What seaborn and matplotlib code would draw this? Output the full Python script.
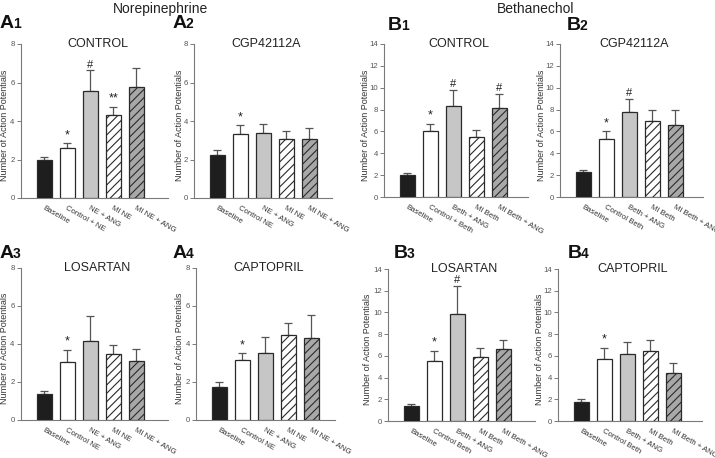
import numpy as np
import pandas as pd
import matplotlib
matplotlib.use("Agg")
import matplotlib.pyplot as plt
import seaborn as sns

sns.set_theme(style="white")
plt.rcParams['font.family'] = ['Liberation Sans', 'DejaVu Sans']
plt.rcParams['hatch.linewidth'] = 0.8

# ---------------- data ----------------
ne_labels_ctrl = ["Baseline", "Control + NE", "NE + ANG", "MI NE", "MI NE + ANG"]
ne_labels = ["Baseline", "Control NE", "NE + ANG", "MI NE", "MI NE + ANG"]
beth_labels_ctrl = ["Baseline", "Control + Beth", "Beth + ANG", "MI Beth", "MI Beth + ANG"]
beth_labels = ["Baseline", "Control Beth", "Beth + ANG", "MI Beth", "MI Beth + ANG"]

a1_mean = [2.00, 2.60, 5.58, 4.33, 5.79]
a1_sem = [0.15, 0.24, 1.05, 0.40, 0.95]
a1_sig = ["", "*", "#", "**", ""]

a2_mean = [2.25, 3.34, 3.39, 3.08, 3.06]
a2_sem = [0.22, 0.43, 0.46, 0.38, 0.57]
a2_sig = ["", "*", "", "", ""]

b1_mean = [1.98, 6.04, 8.35, 5.49, 8.14]
b1_sem = [0.20, 0.68, 1.48, 0.62, 1.32]
b1_sig = ["", "*", "#", "", "#"]

b2_mean = [2.26, 5.30, 7.77, 6.92, 6.55]
b2_sem = [0.22, 0.70, 1.19, 1.07, 1.38]
b2_sig = ["", "*", "#", "", ""]

a3_mean = [1.38, 3.07, 4.17, 3.50, 3.08]
a3_sem = [0.16, 0.64, 1.31, 0.46, 0.65]
a3_sig = ["", "*", "", "", ""]

a4_mean = [1.76, 3.15, 3.53, 4.48, 4.34]
a4_sem = [0.23, 0.36, 0.83, 0.62, 1.20]
a4_sig = ["", "*", "", "", ""]

b3_mean = [1.38, 5.57, 9.88, 5.94, 6.65]
b3_sem = [0.14, 0.92, 2.58, 0.74, 0.83]
b3_sig = ["", "*", "#", "", ""]

b4_mean = [1.75, 5.74, 6.20, 6.47, 4.45]
b4_sem = [0.24, 1.01, 1.10, 0.98, 0.92]
b4_sig = ["", "*", "", "", ""]

# ---------------- style ----------------
face = ["#1e1e1e", "#ffffff", "#c6c6c6", "#ffffff", "#a8a8a8"]
hatches = [None, None, None, "////", "////"]
edge = "#2a2a2a"
axis_gray = "#7a7a7a"

W, H = 715, 458
fig = plt.figure(figsize=(W / 100, H / 100), dpi=100)

PX_PER_CAT = 23.0
LEFT_OFF = 1.02

# (left_px, right_px, top_px, bottom_px), panel-label pos, ylabel centre x
panels = [
    ("A", "1", "CONTROL", ne_labels_ctrl, a1_mean, a1_sem, a1_sig, 8, (21, 168, 44, 198), (0, 23), 5),
    ("A", "2", "CGP42112A", ne_labels, a2_mean, a2_sem, a2_sig, 8, (194, 332, 44, 198), (173, 23), 180),
    ("B", "1", "CONTROL", beth_labels_ctrl, b1_mean, b1_sem, b1_sig, 14, (384, 528, 44, 197), (388, 25), 365),
    ("B", "2", "CGP42112A", beth_labels, b2_mean, b2_sem, b2_sig, 14, (560, 703, 44, 197), (567, 25), 541),
    ("A", "3", "LOSARTAN", ne_labels, a3_mean, a3_sem, a3_sig, 8, (21, 168, 268, 420), (0, 253), 5),
    ("A", "4", "CAPTOPRIL", ne_labels, a4_mean, a4_sem, a4_sig, 8, (196, 335, 268, 420), (173, 253), 180),
    ("B", "3", "LOSARTAN", beth_labels, b3_mean, b3_sem, b3_sig, 14, (388, 535, 269, 421), (394, 253), 368),
    ("B", "4", "CAPTOPRIL", beth_labels, b4_mean, b4_sem, b4_sig, 14, (558, 702, 269, 421), (568, 253), 539),
]

for letter, num, title, labels, mean, sem, sig, ymax, (l, r, t, b), (lx, ly), ylx in panels:
    ax = fig.add_axes([l / W, 1 - b / H, (r - l) / W, (b - t) / H])
    df = pd.DataFrame({"cond": labels, "val": mean})
    sns.barplot(data=df, x="cond", y="val", hue="cond", palette=face, order=labels,
                hue_order=labels, legend=False, errorbar=None, width=0.65,
                edgecolor=edge, linewidth=0.9, ax=ax, zorder=3)
    for p, h, fc in zip(ax.patches, hatches, face):
        p.set_facecolor(fc)
        p.set_edgecolor(edge)
        if h:
            p.set_hatch(h)
    x = np.arange(len(labels))
    ax.errorbar(x, mean, yerr=[np.zeros(len(sem)), sem], fmt="none",
                ecolor="#555555", elinewidth=0.9, capsize=3.2, capthick=0.9, zorder=2)
    for xi, m, s, g in zip(x, mean, sem, sig):
        if g:
            ax.annotate(g, (xi, m + s), xytext=(0, 1.5 if g != "#" else 0.5),
                        textcoords="offset points", ha="center", va="bottom",
                        fontsize=9 if g != "#" else 8, color="#222222")
    ax.set_ylim(0, ymax)
    ax.set_yticks(np.arange(0, ymax + 1, 2))
    ax.set_xlim(-LEFT_OFF, -LEFT_OFF + (r - l) / PX_PER_CAT)
    ax.set_xticks(x)
    ax.set_xticklabels(labels, rotation=-30, ha="left", rotation_mode="anchor",
                       fontsize=5.6, color="#333333")
    ax.tick_params(axis="x", length=0, pad=4.5)
    ax.tick_params(axis="y", length=3, width=0.7, color=axis_gray, labelsize=5.6,
                   labelcolor="#555555", pad=1.5, direction="out", left=True)
    ax.set_xlabel("")
    ax.set_ylabel("Number of Action Potentials", fontsize=6.5, color="#333333")
    ax.yaxis.label.set_va("center")
    ax.yaxis.set_label_coords((ylx - l) / (r - l), 0.47)
    for s in ["top", "right"]:
        ax.spines[s].set_visible(False)
    for s in ["left", "bottom"]:
        ax.spines[s].set_color(axis_gray)
        ax.spines[s].set_linewidth(0.8)
    ax.set_facecolor("none")
    ax.text(0.52, 1.0, title, transform=ax.transAxes, ha="center", va="center",
            fontsize=9, color="#222222")
    # panel label
    fig.text(lx / W, 1 - ly / H, letter, fontsize=14, fontweight="bold",
             ha="left", va="center", color="#111111")
    fig.text((lx + 13) / W, 1 - (ly + 1.5) / H, num, fontsize=10, fontweight="bold",
             ha="left", va="center", color="#111111")

fig.text(160 / W, 1 - 9 / H, "Norepinephrine", fontsize=10, ha="center", va="center",
         color="#222222")
fig.text(536 / W, 1 - 9 / H, "Bethanechol", fontsize=10, ha="center", va="center",
         color="#222222")

fig.savefig("out.png", dpi=100, facecolor="white")
